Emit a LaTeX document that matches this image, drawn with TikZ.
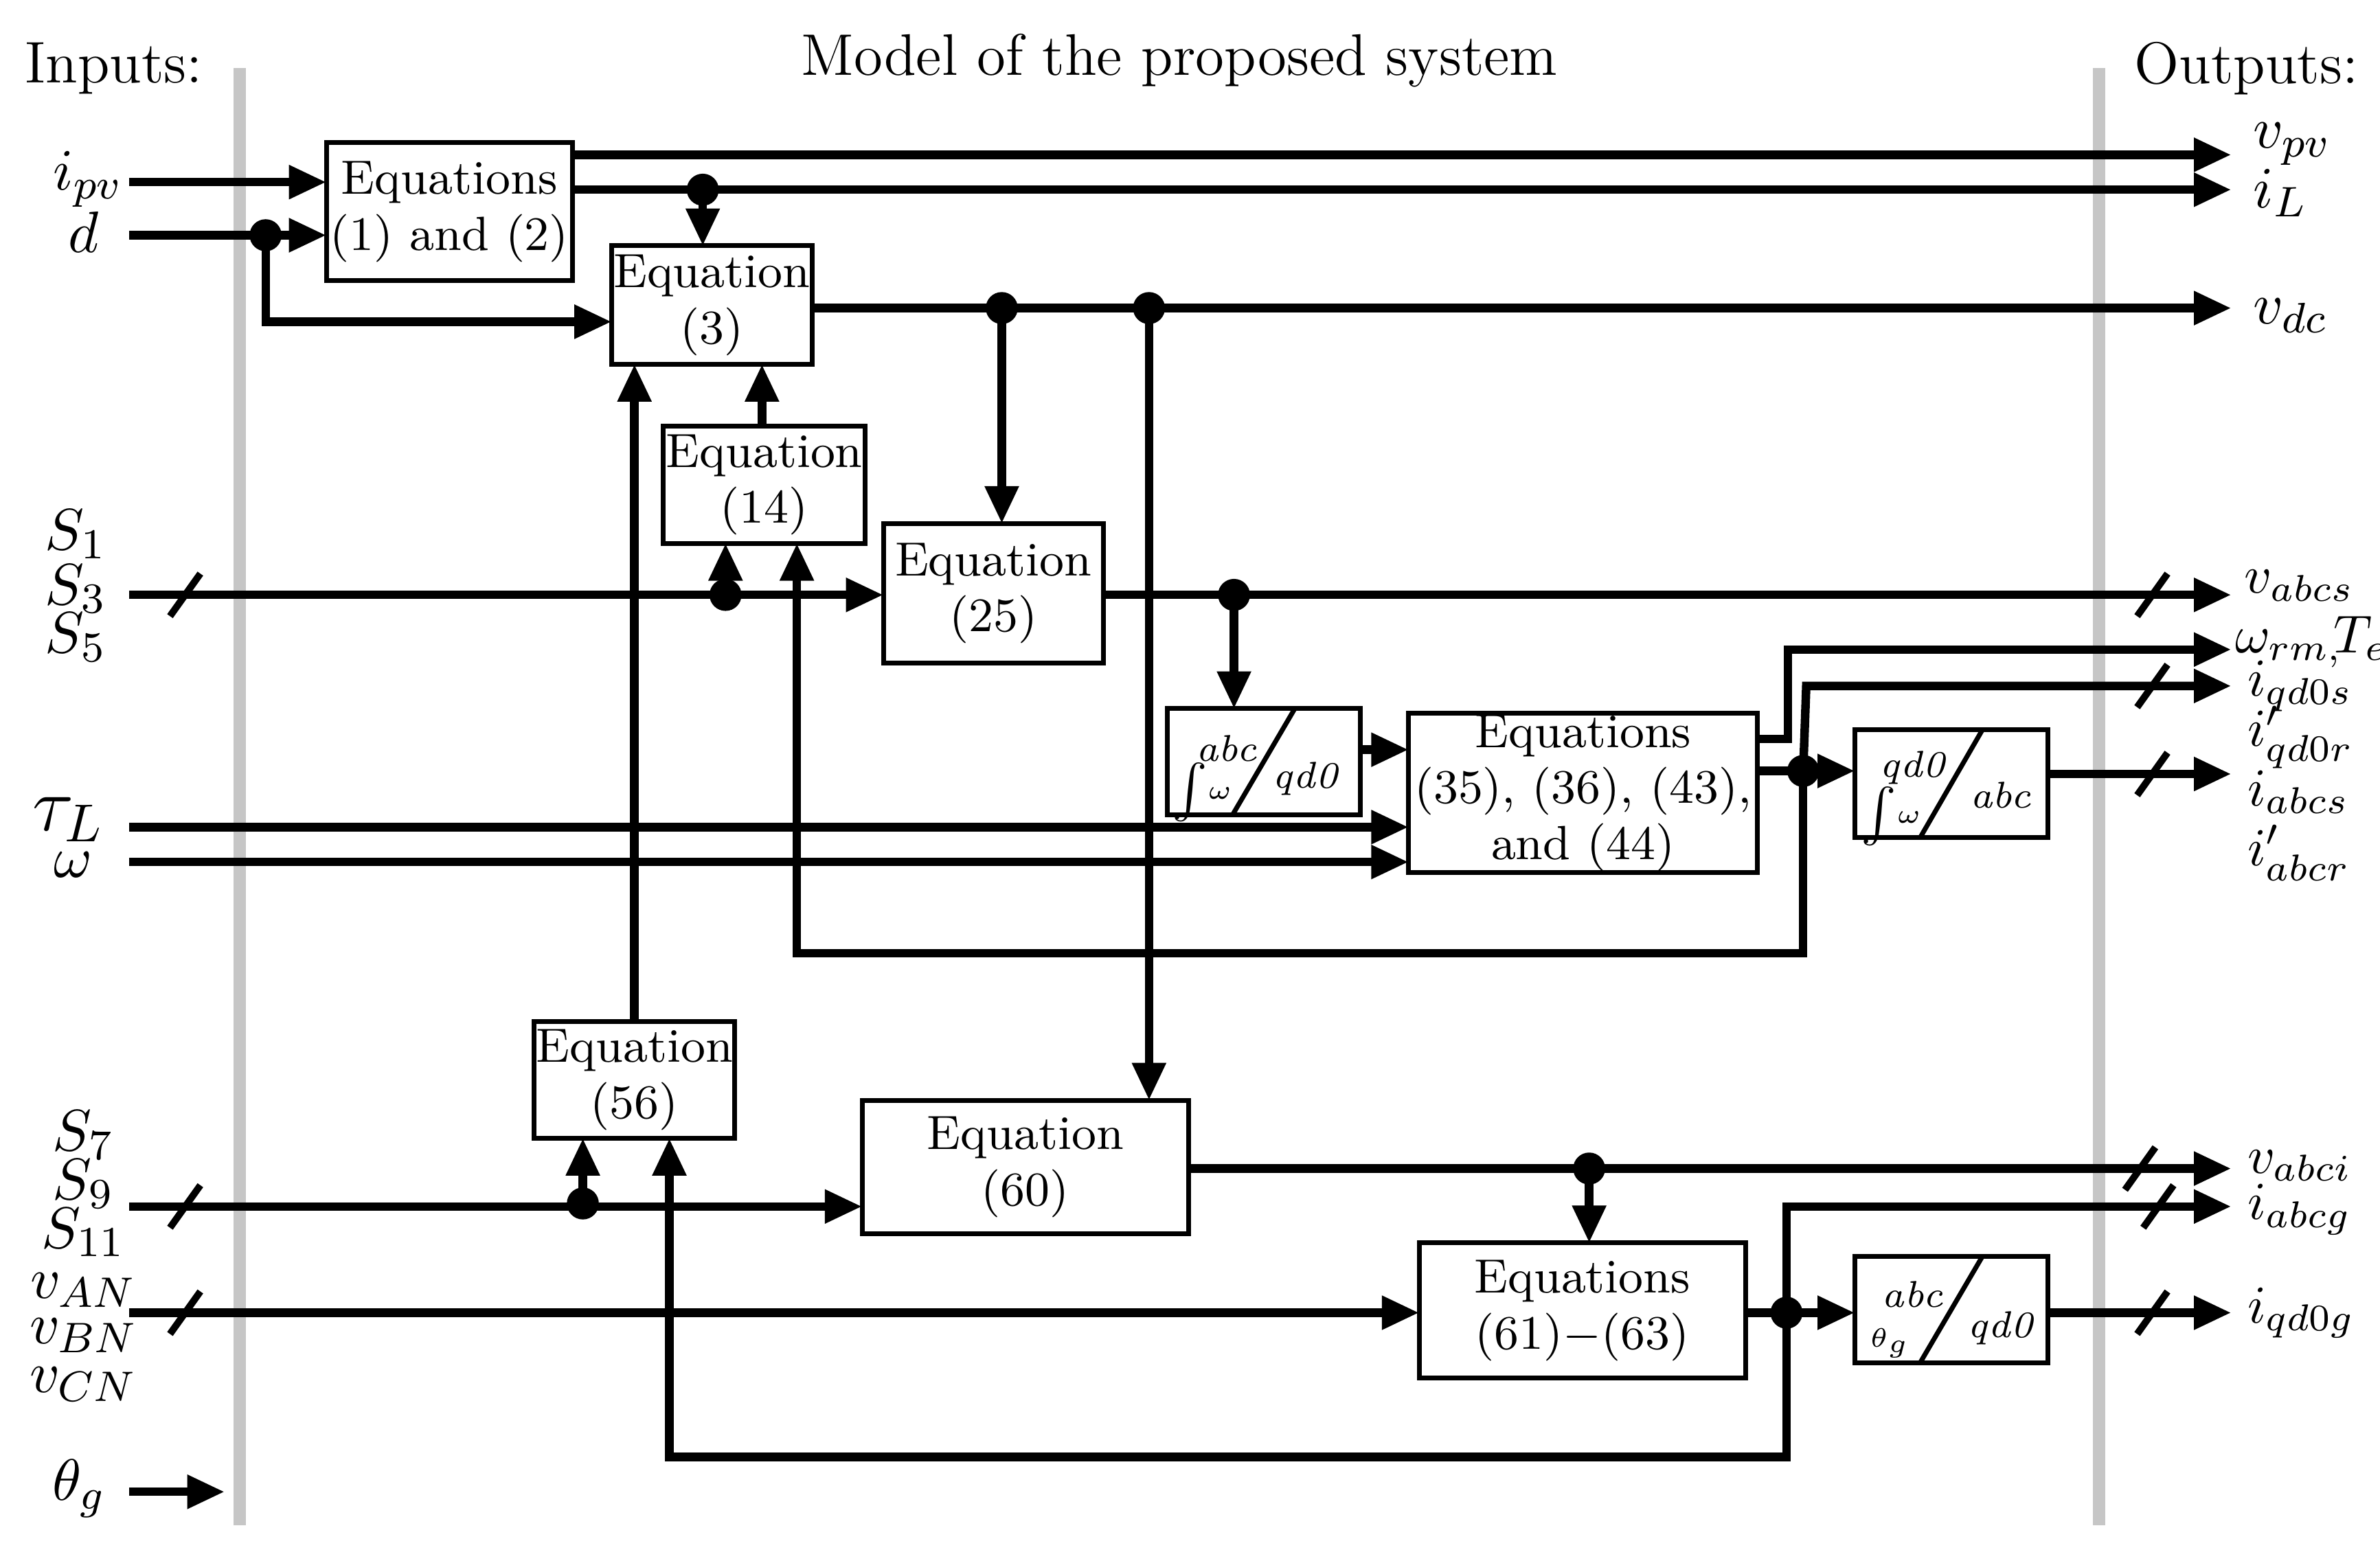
\documentclass[tikz,border=0pt]{standalone}
\usetikzlibrary{arrows.meta}
\begin{document}
\begin{tikzpicture}[x=0.01cm,y=-0.01cm,
 box/.style={inner sep=0pt,align=center,font=\fontsize{9}{10.5}\selectfont},
 w/.style={line width=1.6pt},
 a/.style={w,-{Triangle[length=7pt,width=6pt]}},
 dot/.style={circle,fill,inner sep=0pt,minimum size=6pt},
 lab/.style={font=\fontsize{11}{12}\selectfont},
 olab/.style={font=\fontsize{10}{11}\selectfont,anchor=west,inner sep=0pt},
 tl/.style={font=\fontsize{7}{8}\selectfont\itshape,inner sep=0pt},
 ts/.style={font=\fontsize{5}{6}\selectfont,inner sep=0pt},
 sl/.style={line width=1.3pt}]
\useasboundingbox (0,0) rectangle (1568,1021);
% bars
\fill[gray!45] (154,45) rectangle (162,1005);
\fill[gray!45] (1379,45) rectangle (1387,1005);
\node[lab] (tin) at (75,45) {Inputs:};
\node[lab] (tmod) at (777,40) {Model of the proposed system};
\node[lab] (tout) at (1480,45) {Outputs:};
% boxes
\newcommand\bx[6]{\draw[line width=0.9pt,fill=white] (#1,#2) rectangle (#3,#4); \node[box] (#5) at ({(#1+#3)/2},{(#2+#4)/2}) {#6};}
\bx{215}{94}{377}{185}{A}{Equations\\(1) and (2)}
\bx{403}{162}{535}{240}{B}{Equation\\(3)}
\bx{437}{281}{570}{358}{C}{Equation\\(14)}
\bx{582}{345}{727}{437}{D}{Equation\\(25)}
\bx{928}{470}{1158}{575}{F}{Equations\\(35), (36), (43),\\and (44)}
\bx{352}{673}{484}{750}{H}{Equation\\(56)}
\bx{568}{725}{783}{813}{I}{Equation\\(60)}
\bx{935}{819}{1150}{908}{J}{Equations\\(61)$-$(63)}
% transform boxes
\draw[line width=0.9pt] (769,467) rectangle (896,537); \draw[line width=0.9pt] (812,537)--(853,467);
\node[tl] (E1) at (808,493) {abc};
\node[ts] (E2) at (792,522) {$\int\!\omega$};
\node[tl] (E3) at (860,513) {qd0};
\draw[line width=0.9pt] (1222,481) rectangle (1349,552); \draw[line width=0.9pt] (1265,552)--(1306,481);
\node[tl] (G1) at (1260,506) {qd0};
\node[ts] (G2) at (1246,538) {$\int\!\omega$};
\node[tl] (G3) at (1318,524) {abc};
\draw[line width=0.9pt] (1222,828) rectangle (1349,898); \draw[line width=0.9pt] (1265,898)--(1306,828);
\node[tl] (K1) at (1260,853) {abc};
\node[ts] (K2) at (1245,885) {$\theta_g$};
\node[tl] (K3) at (1318,875) {qd0};
% input labels
\node[lab] (ipv) at (58,118) {$i_{pv}$};
\node[lab] (d) at (55,153) {$d$};
\node[lab] (s1) at (50,352) {$S_1$};
\node[lab] (s3) at (50,388) {$S_3$};
\node[lab] (s5) at (50,420) {$S_5$};
\node[font=\fontsize{14}{15}\selectfont] (tau) at (45,540) {$\tau_L$};
\node[lab] (om) at (48,570) {$\omega$};
\node[lab] (s7) at (55,748) {$S_7$};
\node[lab] (s9) at (55,780) {$S_9$};
\node[lab] (s11) at (55,812) {$S_{11}$};
\node[lab] (van) at (55,850) {$v_{AN}$};
\node[lab] (vbn) at (55,880) {$v_{BN}$};
\node[lab] (vcn) at (55,912) {$v_{CN}$};
\node[lab] (thg) at (52,981) {$\theta_g$};
% output labels
\node[olab,font=\fontsize{11}{12}\selectfont] (o1) at (1484,95) {$v_{pv}$};
\node[olab,font=\fontsize{11}{12}\selectfont] (o2) at (1484,127) {$i_L$};
\node[olab,font=\fontsize{11}{12}\selectfont] (o3) at (1484,208) {$v_{dc}$};
\node[olab] (o4) at (1478,386) {$v_{abcs}$};
\node[olab] (o5) at (1472,423) {$\omega_{rm,}\!T_e$};
\node[olab] (o6) at (1480,452) {$i_{qd0s}$};
\node[olab] (o7) at (1480,486) {$i'_{qd0r}$};
\node[olab] (o8) at (1480,522) {$i_{abcs}$};
\node[olab] (o9) at (1480,562) {$i'_{abcr}$};
\node[olab] (o10) at (1480,768) {$v_{abci}$};
\node[olab] (o11) at (1480,797) {$i_{abcg}$};
\node[olab] (o12) at (1480,865) {$i_{qd0g}$};
% dots
\node[dot] (d1) at (175,155) {};
\node[dot] (d2) at (463,125) {};
\node[dot] (d3) at (660,203) {};
\node[dot] (d4) at (757,203) {};
\node[dot] (d5) at (478,392) {};
\node[dot] (d6) at (813,392) {};
\node[dot] (d7) at (1188,508) {};
\node[dot] (d8) at (384,793) {};
\node[dot] (d9) at (1047,770) {};
\node[dot] (d10) at (1177,865) {};
% connectors
\draw[a] (85,120) -- (215,120);
\draw[a] (85,155) -- (215,155);
\draw[a] (d1.center) -- (175,212) -- (403,212);
\draw[a] (377,102) -- (1470,102);
\draw[a] (377,125) -- (1470,125);
\draw[a] (d2.center) -- (463,162);
\draw[a] (535,203) -- (1470,203);
\draw[a] (d3.center) -- (660,345);
\draw[a] (d4.center) -- (757,725);
\draw[a] (502,281) -- (502,240);
\draw[a] (418,673) -- (418,240);
\draw[a] (85,392) -- (582,392);
\draw[a] (d5.center) -- (478,358);
\draw[a] (d7.center) -- (1188,628) -- (525,628) -- (525,358);
\draw[a] (727,392) -- (1470,392);
\draw[a] (d6.center) -- (813,467);
\draw[a] (896,494) -- (928,494);
\draw[a] (85,545) -- (928,545);
\draw[a] (85,568) -- (928,568);
\draw[a] (1158,487) -- (1178,487) -- (1178,428) -- (1470,428);
\draw[a] (1158,508) -- (1222,508);
\draw[a] (d7.center) -- (1190,452) -- (1470,452);
\draw[a] (1349,510) -- (1470,510);
\draw[a] (85,795) -- (568,795);
\draw[a] (d8.center) -- (384,750);
\draw[a] (d10.center) -- (1177,960) -- (441,960) -- (441,750);
\draw[a] (783,770) -- (1470,770);
\draw[a] (d9.center) -- (1047,819);
\draw[a] (85,865) -- (935,865);
\draw[a] (1150,865) -- (1222,865);
\draw[a] (d10.center) -- (1177,795) -- (1470,795);
\draw[a] (1349,865) -- (1470,865);
\draw[a] (85,983) -- (148,983);
% slashes
\foreach \x/\y in {122/392,1418/392,1418/452,1418/510,122/795,122/865,1410/770,1422/795,1418/865}
  \draw[sl] (\x-10,\y+14) -- (\x+10,\y-14);
\end{tikzpicture}
\end{document}
